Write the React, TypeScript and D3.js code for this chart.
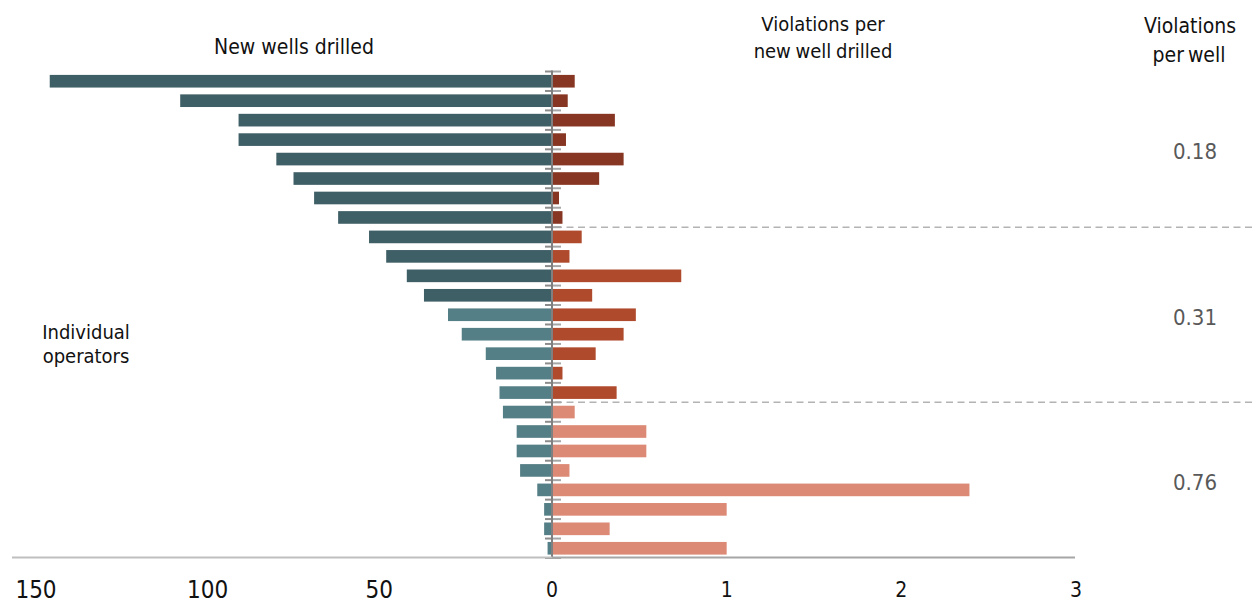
import React from "react";
import * as d3 from "d3";

// Operators sorted by number of new wells drilled
const newWells = [146, 108, 91, 91, 80, 75, 69, 62, 53, 48, 42, 37, 30, 26, 19, 16, 15, 14, 10, 10, 9, 4, 2, 2, 1];
const violationsPerWell = [
  0.13, 0.09, 0.36, 0.08, 0.41, 0.27, 0.04, 0.06,
  0.17, 0.1, 0.74, 0.23, 0.48, 0.41, 0.25, 0.06, 0.37,
  0.13, 0.54, 0.54, 0.1, 2.39, 1.0, 0.33, 1.0,
];
// Tier of each operator (0 = largest drillers, 2 = smallest)
const tier = [
  0, 0, 0, 0, 0, 0, 0, 0,
  1, 1, 1, 1, 1, 1, 1, 1, 1,
  2, 2, 2, 2, 2, 2, 2, 2,
];
const tierAverages = ["0.18", "0.31", "0.76"];
const leftTicks = [150, 100, 50];
const rightTicks = [0, 1, 2, 3];

const W = 1253;
const H = 605;
const FONT = "'DejaVu Sans Condensed', 'DejaVu Sans', Verdana, sans-serif";

const wellColor = (i: number) => (i < 12 ? "#3f5f66" : "#557f86");
const tierColors = ["#863622", "#af4a2d", "#dc8a76"];

export default function App() {
  const idx = newWells.map((_, i) => i);
  const y = d3.scaleBand<number>().domain(idx).range([71.5, 558]).paddingInner(0.35).paddingOuter(0.175);
  const xL = d3.scaleLinear().domain([0, 150]).range([551, 36]);
  const xR = d3.scaleLinear().domain([0, 3]).range([552, 1076]);
  const step = y.step();
  const top = 71.5;
  const boundaries = d3.range(newWells.length + 1).map((k) => top + k * step);

  // Tier separators sit at the boundary between the last row of one tier and the first of the next
  const separators: number[] = [];
  for (let i = 1; i < tier.length; i++) if (tier[i] !== tier[i - 1]) separators.push(top + i * step);

  // Label rows for tier averages: middle of each tier
  const tierCenters = [0, 1, 2].map((t) => {
    const rows = idx.filter((i) => tier[i] === t);
    return (y(rows[0])! + y(rows[rows.length - 1])! + y.bandwidth()) / 2;
  });

  return (
    <svg width={W} height={H} style={{ position: "absolute", left: 0, top: 0, background: "#fff" }} fontFamily={FONT}>
      {/* headers */}
      <text x={294} y={54} fontSize={21} textAnchor="middle" fill="#111">New wells drilled</text>
      <text x={823} y={31} fontSize={20} textAnchor="middle" fill="#111">Violations per</text>
      <text x={823} y={58} fontSize={20} textAnchor="middle" fill="#111" wordSpacing={-1}>new well drilled</text>
      <text x={1190} y={33} fontSize={21} textAnchor="middle" fill="#111">Violations</text>
      <text x={1189} y={62} fontSize={21} textAnchor="middle" fill="#111" wordSpacing={-2}>per well</text>
      <text x={86} y={339} fontSize={20} textAnchor="middle" fill="#111">Individual</text>
      <text x={86} y={363} fontSize={20} textAnchor="middle" fill="#111">operators</text>

      {/* tier separators */}
      {separators.map((s, i) => (
        <line key={"sep" + i} x1={555} x2={W} y1={s} y2={s} stroke="#b3b3b3" strokeWidth={1.6} strokeDasharray="7 4.5" />
      ))}

      {/* new wells bars */}
      {newWells.map((v, i) => (
        <rect key={"l" + i} x={xL(v)} y={y(i)} width={xL(0) - xL(v)} height={y.bandwidth()} fill={wellColor(i)} />
      ))}
      {/* violations per well bars */}
      {violationsPerWell.map((v, i) => (
        <rect key={"r" + i} x={xR(0) + 1} y={y(i)} width={xR(v) - xR(0) - 1} height={y.bandwidth()} fill={tierColors[tier[i]]} />
      ))}

      {/* central axis with row ticks */}
      {boundaries.map((b, k) => (
        <g key={"t" + k}>
          <line x1={545} x2={552} y1={b} y2={b} stroke="#8c8c8c" strokeWidth={2} />
          <line x1={552} x2={561} y1={b} y2={b} stroke="#a6a6a6" strokeWidth={2} />
        </g>
      ))}
      <line x1={552} x2={552} y1={top - 1} y2={558} stroke="#808080" strokeWidth={2} />

      {/* bottom axes */}
      <line x1={12} x2={552} y1={557.5} y2={557.5} stroke="#bfbfbf" strokeWidth={2} />
      <line x1={552} x2={1075} y1={557.5} y2={557.5} stroke="#a6a6a6" strokeWidth={2} />
      {leftTicks.map((t) => (
        <text key={"lt" + t} x={xL(t)} y={598} fontSize={24} textAnchor="middle" fill="#111">{t}</text>
      ))}
      {rightTicks.map((t) => (
        <text key={"rt" + t} x={xR(t)} y={597} fontSize={21} textAnchor="middle" fill="#111">{t}</text>
      ))}

      {/* tier averages */}
      {tierAverages.map((a, t) => (
        <text key={"avg" + t} x={1195} y={tierCenters[t] + 10} fontSize={22} textAnchor="middle" fill="#595959">{a}</text>
      ))}
    </svg>
  );
}
